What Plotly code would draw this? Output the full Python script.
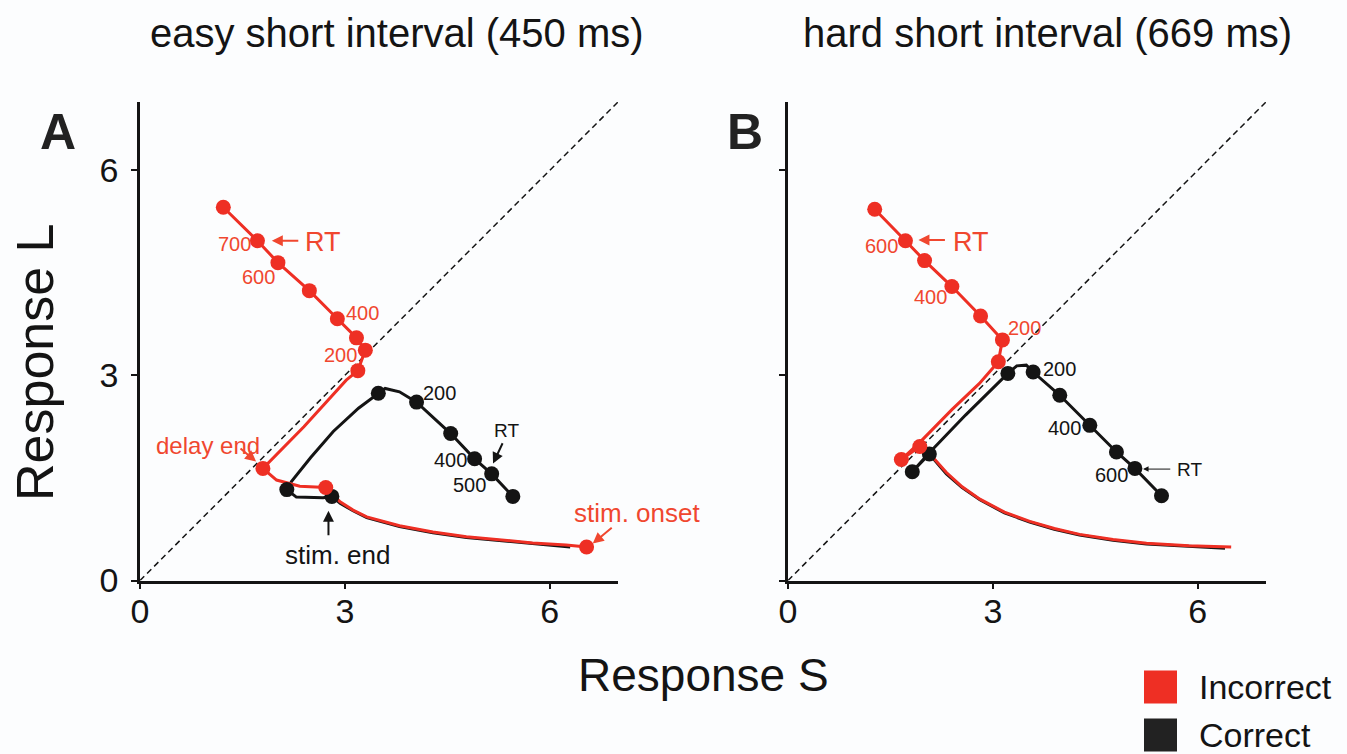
import plotly.graph_objects as go

W, H = 1347, 754
RED = '#ee2f24'
RED_TXT = '#f0472f'
BLK = '#141414'
FONT = 'Liberation Sans, Arial, sans-serif'

# ---------------- Panel A (easy short interval) ----------------
# incorrect trajectory (stim onset -> stim end -> delay end -> response)
a_inc_x = [6.54, 6.24, 5.75, 5.27, 4.78, 4.29, 3.80, 3.32, 3.12, 2.93, 2.81, 2.72,
           2.34, 2.00, 1.80, 2.40, 3.02, 3.19, 3.30, 3.17, 2.89, 2.48, 2.02, 1.72, 1.22]
a_inc_y = [0.49, 0.52, 0.55, 0.59, 0.64, 0.71, 0.80, 0.93, 1.03, 1.15, 1.27, 1.36,
           1.38, 1.47, 1.64, 2.25, 2.93, 3.07, 3.37, 3.55, 3.83, 4.24, 4.65, 4.97, 5.46]
a_inc_mx = [6.54, 2.72, 1.80, 3.19, 3.30, 3.17, 2.89, 2.48, 2.02, 1.72, 1.22]
a_inc_my = [0.49, 1.36, 1.64, 3.07, 3.37, 3.55, 3.83, 4.24, 4.65, 4.97, 5.46]
# correct trajectory
a_cor_x = [6.30, 5.75, 5.27, 4.78, 4.29, 3.80, 3.32, 3.12, 2.93, 2.81, 2.68, 2.29, 2.15,
           2.22, 2.50, 2.83, 3.20, 3.49, 3.59, 3.80, 4.05, 4.55, 4.90, 5.15, 5.46]
a_cor_y = [0.49, 0.54, 0.58, 0.63, 0.70, 0.79, 0.92, 1.02, 1.13, 1.23, 1.21, 1.22, 1.33,
           1.45, 1.80, 2.18, 2.52, 2.74, 2.81, 2.76, 2.61, 2.15, 1.78, 1.56, 1.23]
a_cor_mx = [2.81, 2.15, 3.49, 4.05, 4.55, 4.90, 5.15, 5.46]
a_cor_my = [1.23, 1.33, 2.74, 2.61, 2.15, 1.78, 1.56, 1.23]

# ---------------- Panel B (hard short interval) ----------------
b_inc_x = [6.49, 5.87, 5.25, 4.76, 4.27, 3.90, 3.54, 3.17, 2.81, 2.55, 2.32, 2.07, 1.93,
           1.66, 1.93, 2.40, 2.80, 3.08, 3.14, 2.82, 2.40, 2.00, 1.72, 1.27]
b_inc_y = [0.49, 0.51, 0.545, 0.60, 0.675, 0.76, 0.865, 1.00, 1.19, 1.37, 1.58, 1.86, 1.96,
           1.77, 2.02, 2.50, 2.88, 3.20, 3.52, 3.87, 4.30, 4.68, 4.97, 5.43]
b_inc_mx = [1.93, 1.66, 3.08, 3.14, 2.82, 2.40, 2.00, 1.72, 1.27]
b_inc_my = [1.96, 1.77, 3.20, 3.52, 3.87, 4.30, 4.68, 4.97, 5.43]
b_cor_x = [6.40, 5.87, 5.25, 4.76, 4.27, 3.90, 3.54, 3.17, 2.81, 2.55, 2.32, 2.07, 1.82,
           2.07, 2.60, 3.22, 3.35, 3.49, 3.59, 3.98, 4.42, 4.81, 5.08, 5.47]
b_cor_y = [0.47, 0.50, 0.535, 0.59, 0.665, 0.75, 0.855, 0.99, 1.18, 1.36, 1.56, 1.85, 1.59,
           1.87, 2.42, 3.03, 3.14, 3.15, 3.05, 2.71, 2.27, 1.88, 1.64, 1.24]
b_cor_mx = [2.07, 1.82, 3.22, 3.59, 3.98, 4.42, 4.81, 5.08, 5.47]
b_cor_my = [1.85, 1.59, 3.03, 3.05, 2.71, 2.27, 1.88, 1.64, 1.24]

diag = [0, 7]
ticks = [0, 3, 6]
titles = ['easy short interval (450 ms)', 'hard short interval (669 ms)']
legend_labels = ['Incorrect', 'Correct']

fig = go.Figure()

for xa, ya, cx, cy, cmx, cmy, ix, iy, imx, imy in [
        ('x', 'y', a_cor_x, a_cor_y, a_cor_mx, a_cor_my, a_inc_x, a_inc_y, a_inc_mx, a_inc_my),
        ('x2', 'y2', b_cor_x, b_cor_y, b_cor_mx, b_cor_my, b_inc_x, b_inc_y, b_inc_mx, b_inc_my)]:
    fig.add_trace(go.Scatter(x=diag, y=diag, mode='lines', xaxis=xa, yaxis=ya,
                             line=dict(color=BLK, width=1.5, dash='6px,4px'), showlegend=False))
    fig.add_trace(go.Scatter(x=cx, y=cy, mode='lines', xaxis=xa, yaxis=ya,
                             line=dict(color=BLK, width=3), showlegend=False))
    fig.add_trace(go.Scatter(x=ix, y=iy, mode='lines', xaxis=xa, yaxis=ya,
                             line=dict(color=RED, width=3), showlegend=False))
    fig.add_trace(go.Scatter(x=cmx, y=cmy, mode='markers', xaxis=xa, yaxis=ya,
                             marker=dict(color=BLK, size=15), showlegend=False))
    fig.add_trace(go.Scatter(x=imx, y=imy, mode='markers', xaxis=xa, yaxis=ya,
                             marker=dict(color=RED, size=15), showlegend=False))

ax_common = dict(range=[0, 7], showline=True, linecolor=BLK, linewidth=2.5, ticks='outside',
                 tickvals=ticks, ticklen=6, tickwidth=2, tickcolor=BLK, showgrid=False,
                 zeroline=False, automargin=False,
                 tickfont=dict(family=FONT, size=34, color=BLK))
ydom = [1 - 580.5 / H, 1 - 102 / H]
fig.update_layout(
    width=W, height=H,
    margin=dict(l=0, r=0, t=0, b=0, pad=0, autoexpand=False),
    paper_bgcolor='#fcfdfe', plot_bgcolor='#fcfdfe',
    showlegend=False,
    xaxis=dict(domain=[140 / W, 618 / W], anchor='y', ticklabelstandoff=-7, **ax_common),
    yaxis=dict(domain=ydom, anchor='x', ticklabelstandoff=6, **ax_common),
    xaxis2=dict(domain=[788 / W, 1266 / W], anchor='y2', ticklabelstandoff=-7, **ax_common),
    yaxis2=dict(domain=ydom, anchor='x2', showticklabels=False, **ax_common),
)

ann = []
def txt(x, y, s, size, color, xref='x', yref='y', **kw):
    d = dict(x=x, y=y, text=s, xref=xref, yref=yref, showarrow=False,
             font=dict(family=FONT, size=size, color=color), xanchor='center', yanchor='middle')
    d.update(kw)
    ann.append(d)

def arrow(x, y, tx, ty, color, width=2, xref='x', yref='y'):
    ann.append(dict(x=x, y=y, ax=tx, ay=ty, xref=xref, yref=yref, axref=xref, ayref=yref,
                    text='', showarrow=True, arrowhead=2, arrowsize=1.1, arrowwidth=width,
                    arrowcolor=color))

# titles & panel letters
txt(397 / W, 1 - 33 / H, titles[0], 40, BLK, 'paper', 'paper')
txt(1047 / W, 1 - 33 / H, titles[1], 40, BLK, 'paper', 'paper')
txt(58 / W, 1 - 132 / H, '<b>A</b>', 50, '#222', 'paper', 'paper')
txt(745 / W, 1 - 132 / H, '<b>B</b>', 50, '#222', 'paper', 'paper')
txt(703 / W, 1 - 675 / H, 'Response S', 46, BLK, 'paper', 'paper')
txt(35 / W, 1 - 362 / H, 'Response L', 52, BLK, 'paper', 'paper', textangle=-90)

# panel A annotations
txt(1.38, 4.93, '700', 20, RED_TXT)
txt(1.73, 4.44, '600', 20, RED_TXT)
txt(3.26, 3.91, '400', 20, RED_TXT)
txt(2.93, 3.30, '200', 20, RED_TXT)
txt(2.68, 4.95, 'RT', 27, RED_TXT)
arrow(1.93, 4.97, 2.34, 4.97, RED_TXT)
txt(1.0, 1.97, 'delay end', 24, RED_TXT)
arrow(1.70, 1.74, 1.45, 1.95, RED_TXT)
txt(2.90, 0.37, 'stim. end', 26, BLK)
arrow(2.76, 1.02, 2.76, 0.64, BLK)
txt(6.32, 0.99, 'stim. onset', 26, RED_TXT, xanchor='left')
arrow(6.63, 0.54, 6.93, 0.79, RED_TXT)
txt(4.39, 2.74, '200', 20, BLK)
txt(4.54, 1.76, '400', 20, BLK)
txt(4.83, 1.40, '500', 20, BLK)
txt(5.37, 2.20, 'RT', 19, BLK)
arrow(5.17, 1.71, 5.32, 2.03, BLK)

# panel B annotations
txt(1.37, 4.90, '600', 20, RED_TXT, 'x2', 'y2')
txt(2.68, 4.95, 'RT', 27, RED_TXT, 'x2', 'y2')
arrow(1.91, 4.98, 2.32, 4.98, RED_TXT, 2, 'x2', 'y2')
txt(2.08, 4.15, '400', 20, RED_TXT, 'x2', 'y2')
txt(3.47, 3.69, '200', 20, RED_TXT, 'x2', 'y2')
txt(3.98, 3.10, '200', 20, BLK, 'x2', 'y2')
txt(4.05, 2.23, '400', 20, BLK, 'x2', 'y2')
txt(4.74, 1.54, '600', 20, BLK, 'x2', 'y2')
txt(5.88, 1.62, 'RT', 19, BLK, 'x2', 'y2')
arrow(5.20, 1.63, 5.62, 1.63, BLK, 1, 'x2', 'y2')

# legend
legend_colors = [RED, '#222222']
legend_y = [687, 735]
shapes = []
for lab, col, yc in zip(legend_labels, legend_colors, legend_y):
    shapes.append(dict(type='rect', xref='paper', yref='paper', x0=1144 / W, x1=1177 / W,
                       y0=1 - (yc + 16.5) / H, y1=1 - (yc - 16.5) / H,
                       fillcolor=col, line=dict(width=0)))
    txt(1197 / W, 1 - yc / H, lab, 34, BLK, 'paper', 'paper', xanchor='left')

fig.update_layout(annotations=ann, shapes=shapes)
fig.write_html('out.html')
